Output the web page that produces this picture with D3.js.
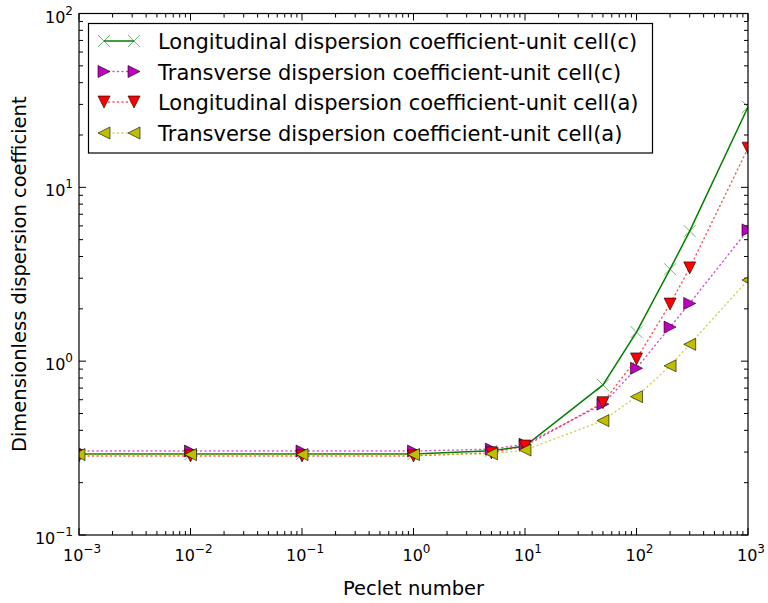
<!DOCTYPE html>
<html><head><meta charset="utf-8">
<script src="https://cdn.jsdelivr.net/npm/d3@7"></script>
<style>body{margin:0;background:#fff}svg{display:block;font-family:"DejaVu Sans",sans-serif}</style>
</head><body><svg id="c" width="768" height="603"></svg>
<script>
const peclet = [0.001, 0.01, 0.1, 1, 5, 10, 50, 100, 200, 300, 1000];
const longC  = [0.292, 0.292, 0.292, 0.292, 0.305, 0.325, 0.73, 1.47, 3.38, 5.6, 29.0];
const transC = [0.304, 0.304, 0.304, 0.304, 0.312, 0.333, 0.566, 0.91, 1.57, 2.15, 5.69];
const longA  = [0.285, 0.285, 0.285, 0.285, 0.297, 0.325, 0.577, 1.03, 2.13, 3.44, 16.8];
const transA = [0.29, 0.29, 0.29, 0.29, 0.293, 0.308, 0.455, 0.625, 0.94, 1.25, 2.93];
const seriesNames = [
  "Longitudinal dispersion coefficient-unit cell(c)",
  "Transverse dispersion coefficient-unit cell(c)",
  "Longitudinal dispersion coefficient-unit cell(a)",
  "Transverse dispersion coefficient-unit cell(a)"
];
const seriesColors = ["#008000", "#bf00bf", "#ff0000", "#bfbf00"];
const seriesMarkers = ["x", "right", "down", "left"];
const seriesDash = [null, "1,3.5", "1,3.5", "1,3.5"];
const seriesValues = [longC, transC, longA, transA];
const xTickExps = [-3, -2, -1, 0, 1, 2, 3];
const yTickExps = [-1, 0, 1, 2];

const svg = d3.select("#c");
const L = 79, R = 748, T = 13.5, B = 535;
const x = d3.scaleLog().domain([1e-3, 1e3]).range([L, R]);
const y = d3.scaleLog().domain([0.1, 100]).range([B, T]);

svg.append("defs").append("clipPath").attr("id", "clip")
  .append("rect").attr("x", L).attr("y", T).attr("width", R - L).attr("height", B - T);

// ticks
const g = svg.append("g").attr("stroke", "#000").attr("stroke-width", 1);
function minorTicks(dom) {
  const out = [];
  for (let e = Math.log10(dom[0]); e < Math.log10(dom[1]); e++)
    for (let k = 2; k <= 9; k++) out.push(k * Math.pow(10, e));
  return out;
}
xTickExps.forEach(e => {
  const px = x(Math.pow(10, e));
  g.append("line").attr("x1", px).attr("x2", px).attr("y1", B).attr("y2", B - 7);
  g.append("line").attr("x1", px).attr("x2", px).attr("y1", T).attr("y2", T + 7);
});
minorTicks(x.domain()).forEach(v => {
  const px = x(v);
  g.append("line").attr("x1", px).attr("x2", px).attr("y1", B).attr("y2", B - 4);
  g.append("line").attr("x1", px).attr("x2", px).attr("y1", T).attr("y2", T + 4);
});
yTickExps.forEach(e => {
  const py = y(Math.pow(10, e));
  g.append("line").attr("x1", L).attr("x2", L + 7).attr("y1", py).attr("y2", py);
  g.append("line").attr("x1", R).attr("x2", R - 7).attr("y1", py).attr("y2", py);
});
minorTicks(y.domain()).forEach(v => {
  const py = y(v);
  g.append("line").attr("x1", L).attr("x2", L + 4).attr("y1", py).attr("y2", py);
  g.append("line").attr("x1", R).attr("x2", R - 4).attr("y1", py).attr("y2", py);
});

// tick labels
function powLabel(sel, e) {
  sel.append("tspan").text("10");
  sel.append("tspan").attr("dy", -8).attr("font-size", 12).text(String(e).replace("-", "\u2212"));
}
xTickExps.forEach(e => {
  const t = svg.append("text").attr("x", x(Math.pow(10, e)) + 3).attr("y", 561)
    .attr("text-anchor", "middle").attr("font-size", 16);
  powLabel(t, e);
});
yTickExps.forEach(e => {
  const t = svg.append("text").attr("x", 73).attr("y", y(Math.pow(10, e)) + 9)
    .attr("text-anchor", "end").attr("font-size", 16);
  powLabel(t, e);
});

// axis labels
svg.append("text").attr("x", (L + R) / 2).attr("y", 595).attr("text-anchor", "middle")
  .attr("font-size", 19.5).text("Peclet number");
svg.append("text").attr("transform", `translate(26,${(T + B) / 2}) rotate(-90)`)
  .attr("text-anchor", "middle").attr("font-size", 19.5).text("Dimensionless dispersion coefficient");

// markers
function drawMarker(sel, type, color, cx, cy) {
  const s = 6;
  if (type === "x") {
    sel.append("path").attr("d", `M${cx - s},${cy - s}L${cx + s},${cy + s}M${cx - s},${cy + s}L${cx + s},${cy - s}`)
      .attr("stroke", color).attr("stroke-width", 0.8).attr("fill", "none").attr("opacity", 0.7);
    return;
  }
  let pts;
  if (type === "right") pts = [[cx + s, cy], [cx - s, cy - s], [cx - s, cy + s]];
  if (type === "left") pts = [[cx - s, cy], [cx + s, cy - s], [cx + s, cy + s]];
  if (type === "down") pts = [[cx, cy + s], [cx - s, cy - s], [cx + s, cy - s]];
  sel.append("path").attr("d", "M" + pts.map(p => p.join(",")).join("L") + "Z")
    .attr("fill", color).attr("stroke", "#000").attr("stroke-width", 0.6);
}

const plot = svg.append("g").attr("clip-path", "url(#clip)");
const line = d3.line().x(d => x(d[0])).y(d => y(d[1]));
seriesValues.forEach((vals, i) => {
  const data = peclet.map((p, j) => [p, vals[j]]);
  const sg = plot.append("g");
  sg.append("path").datum(data).attr("d", line).attr("fill", "none")
    .attr("stroke", seriesColors[i]).attr("stroke-width", i === 0 ? 1.5 : 1.4)
    .attr("stroke-dasharray", seriesDash[i]).attr("stroke-linecap", i === 0 ? "butt" : "round")
    .attr("opacity", i === 0 ? 1 : 0.7);
  data.forEach(d => drawMarker(sg, seriesMarkers[i], seriesColors[i], x(d[0]), y(d[1])));
});

// frame
svg.append("rect").attr("x", L).attr("y", T).attr("width", R - L).attr("height", B - T)
  .attr("fill", "none").attr("stroke", "#000").attr("stroke-width", 1.2);

// legend
const lg = svg.append("g");
lg.append("rect").attr("x", 88.5).attr("y", 23.5).attr("width", 564).attr("height", 129.5)
  .attr("fill", "#fff").attr("stroke", "#000").attr("stroke-width", 1.2);
const rowY = [41, 71.5, 102, 133];
seriesNames.forEach((name, i) => {
  const ry = rowY[i];
  lg.append("line").attr("x1", 104).attr("x2", 134).attr("y1", ry).attr("y2", ry)
    .attr("stroke", seriesColors[i]).attr("stroke-width", i === 0 ? 1.5 : 1.4)
    .attr("stroke-dasharray", seriesDash[i]).attr("stroke-linecap", i === 0 ? "butt" : "round")
    .attr("opacity", i === 0 ? 1 : 0.7);
  drawMarker(lg, seriesMarkers[i], seriesColors[i], 104, ry);
  drawMarker(lg, seriesMarkers[i], seriesColors[i], 134, ry);
  lg.append("text").attr("x", 158).attr("y", ry + 8).attr("font-size", 21).text(name);
});
</script></body></html>
